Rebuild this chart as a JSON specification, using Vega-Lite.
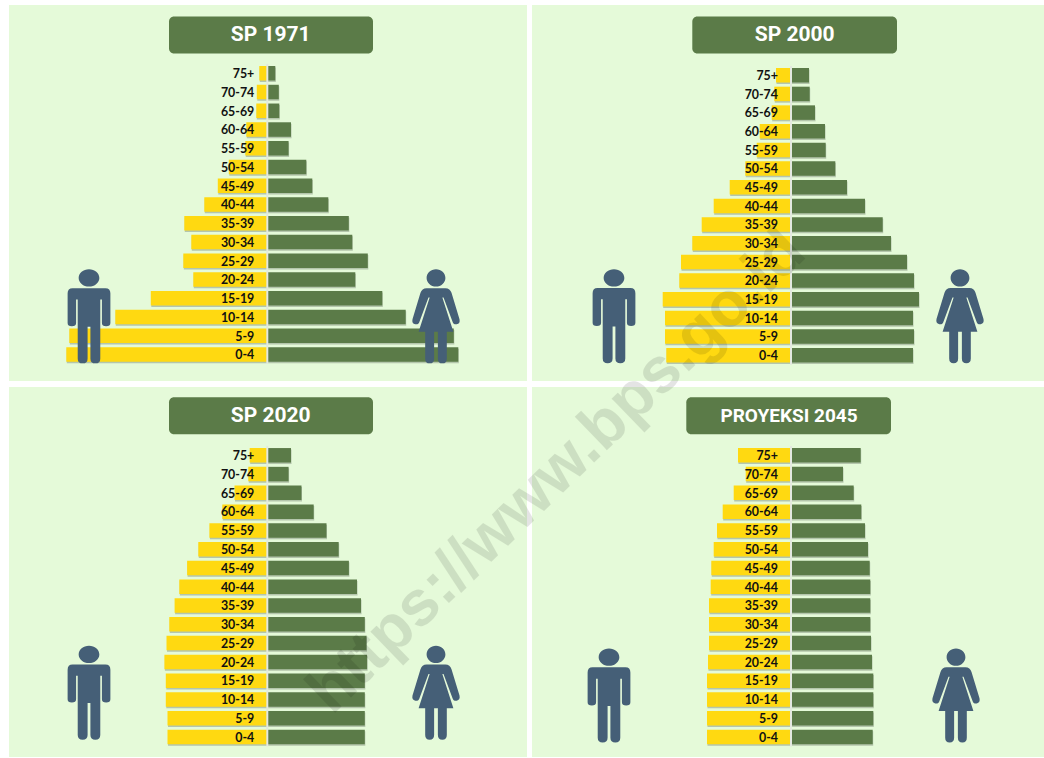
{"$schema":"https://vega.github.io/schema/vega-lite/v6.json","background":"#ffffff","padding":{"left":9,"top":5,"right":0,"bottom":0},"autosize":{"type":"pad"},"bounds":"flush","columns":2,"spacing":{"row":6,"column":5},
"config":{"range":{"symbol":["M-0.35,-0.6 H0.35 Q0.455,-0.6 0.455,-0.49 V0.14 Q0.455,0.21 0.365,0.21 Q0.275,0.21 0.275,0.14 V-0.36 H0.24 V0.9 Q0.24,1 0.135,1 Q0.03,1 0.03,0.9 V0.22 H-0.03 V0.9 Q-0.03,1 -0.135,1 Q-0.24,1 -0.24,0.9 V-0.36 H-0.275 V0.14 Q-0.275,0.21 -0.365,0.21 Q-0.455,0.21 -0.455,0.14 V-0.49 Q-0.455,-0.6 -0.35,-0.6 Z M-0.22,-0.816 A0.22,0.184 0 1 1 0.22,-0.816 A0.22,0.184 0 1 1 -0.22,-0.816 Z","M-0.2,-0.6 H0.2 Q0.3,-0.6 0.33,-0.5 L0.5,0.06 Q0.52,0.15 0.44,0.17 Q0.37,0.18 0.35,0.11 L0.16,-0.4 L0.135,-0.4 L0.37,0.33 H0.23 V0.9 Q0.23,1 0.135,1 Q0.04,1 0.04,0.9 V0.33 H-0.04 V0.9 Q-0.04,1 -0.135,1 Q-0.23,1 -0.23,0.9 V0.33 H-0.37 L-0.135,-0.4 L-0.16,-0.4 L-0.35,0.11 Q-0.37,0.18 -0.44,0.17 Q-0.52,0.15 -0.5,0.06 L-0.33,-0.5 Q-0.3,-0.6 -0.2,-0.6 Z M-0.2,-0.816 A0.2,0.184 0 1 1 0.2,-0.816 A0.2,0.184 0 1 1 -0.2,-0.816 Z"]}},
"datasets":{
"sp1971":[{"age":"75+","sex":"L","value":-8},{"age":"70-74","sex":"L","value":-10.5},{"age":"65-69","sex":"L","value":-11},{"age":"60-64","sex":"L","value":-21},{"age":"55-59","sex":"L","value":-22},{"age":"50-54","sex":"L","value":-38.5},{"age":"45-49","sex":"L","value":-49.5},{"age":"40-44","sex":"L","value":-63},{"age":"35-39","sex":"L","value":-83},{"age":"30-34","sex":"L","value":-76},{"age":"25-29","sex":"L","value":-84},{"age":"20-24","sex":"L","value":-74},{"age":"15-19","sex":"L","value":-116.5},{"age":"10-14","sex":"L","value":-152},{"age":"5-9","sex":"L","value":-198},{"age":"0-4","sex":"L","value":-201},
{"age":"75+","sex":"P","value":8},{"age":"70-74","sex":"P","value":11.5},{"age":"65-69","sex":"P","value":12},{"age":"60-64","sex":"P","value":23.7},{"age":"55-59","sex":"P","value":21.3},{"age":"50-54","sex":"P","value":39},{"age":"45-49","sex":"P","value":45},{"age":"40-44","sex":"P","value":61},{"age":"35-39","sex":"P","value":81.5},{"age":"30-34","sex":"P","value":85},{"age":"25-29","sex":"P","value":100.5},{"age":"20-24","sex":"P","value":88},{"age":"15-19","sex":"P","value":115},{"age":"10-14","sex":"P","value":138.4},{"age":"5-9","sex":"P","value":186.5},{"age":"0-4","sex":"P","value":191}],
"sp2000":[{"age":"75+","sex":"L","value":-15},{"age":"70-74","sex":"L","value":-16.7},{"age":"65-69","sex":"L","value":-19.3},{"age":"60-64","sex":"L","value":-31.3},{"age":"55-59","sex":"L","value":-34.3},{"age":"50-54","sex":"L","value":-45.7},{"age":"45-49","sex":"L","value":-61.3},{"age":"40-44","sex":"L","value":-77.3},{"age":"35-39","sex":"L","value":-89.3},{"age":"30-34","sex":"L","value":-98.7},{"age":"25-29","sex":"L","value":-110},{"age":"20-24","sex":"L","value":-111.7},{"age":"15-19","sex":"L","value":-128.3},{"age":"10-14","sex":"L","value":-126},{"age":"5-9","sex":"L","value":-126},{"age":"0-4","sex":"L","value":-124.7},
{"age":"75+","sex":"P","value":18},{"age":"70-74","sex":"P","value":18.7},{"age":"65-69","sex":"P","value":24},{"age":"60-64","sex":"P","value":34},{"age":"55-59","sex":"P","value":34.7},{"age":"50-54","sex":"P","value":44.3},{"age":"45-49","sex":"P","value":56},{"age":"40-44","sex":"P","value":74},{"age":"35-39","sex":"P","value":91.7},{"age":"30-34","sex":"P","value":100},{"age":"25-29","sex":"P","value":116},{"age":"20-24","sex":"P","value":123},{"age":"15-19","sex":"P","value":128},{"age":"10-14","sex":"P","value":122},{"age":"5-9","sex":"P","value":123},{"age":"0-4","sex":"P","value":122}],
"sp2020":[{"age":"75+","sex":"L","value":-17.6},{"age":"70-74","sex":"L","value":-19},{"age":"65-69","sex":"L","value":-32.8},{"age":"60-64","sex":"L","value":-45},{"age":"55-59","sex":"L","value":-57.9},{"age":"50-54","sex":"L","value":-69},{"age":"45-49","sex":"L","value":-80.2},{"age":"40-44","sex":"L","value":-88},{"age":"35-39","sex":"L","value":-92.7},{"age":"30-34","sex":"L","value":-98},{"age":"25-29","sex":"L","value":-100.8},{"age":"20-24","sex":"L","value":-102.9},{"age":"15-19","sex":"L","value":-101.5},{"age":"10-14","sex":"L","value":-101.5},{"age":"5-9","sex":"L","value":-99.8},{"age":"0-4","sex":"L","value":-99.8},
{"age":"75+","sex":"P","value":23.7},{"age":"70-74","sex":"P","value":21.3},{"age":"65-69","sex":"P","value":34.2},{"age":"60-64","sex":"P","value":46.4},{"age":"55-59","sex":"P","value":59.2},{"age":"50-54","sex":"P","value":71.4},{"age":"45-49","sex":"P","value":81.6},{"age":"40-44","sex":"P","value":89.7},{"age":"35-39","sex":"P","value":93.7},{"age":"30-34","sex":"P","value":97.5},{"age":"25-29","sex":"P","value":99.2},{"age":"20-24","sex":"P","value":99.8},{"age":"15-19","sex":"P","value":97.5},{"age":"10-14","sex":"P","value":97.5},{"age":"5-9","sex":"P","value":97.5},{"age":"0-4","sex":"P","value":97.5}],
"p2045":[{"age":"75+","sex":"L","value":-53},{"age":"70-74","sex":"L","value":-45.3},{"age":"65-69","sex":"L","value":-57.3},{"age":"60-64","sex":"L","value":-68.3},{"age":"55-59","sex":"L","value":-74},{"age":"50-54","sex":"L","value":-77.3},{"age":"45-49","sex":"L","value":-79.7},{"age":"40-44","sex":"L","value":-80.3},{"age":"35-39","sex":"L","value":-82},{"age":"30-34","sex":"L","value":-82},{"age":"25-29","sex":"L","value":-82},{"age":"20-24","sex":"L","value":-83},{"age":"15-19","sex":"L","value":-84},{"age":"10-14","sex":"L","value":-84},{"age":"5-9","sex":"L","value":-84},{"age":"0-4","sex":"L","value":-84},
{"age":"75+","sex":"P","value":69.7},{"age":"70-74","sex":"P","value":52},{"age":"65-69","sex":"P","value":62.7},{"age":"60-64","sex":"P","value":70.3},{"age":"55-59","sex":"P","value":74},{"age":"50-54","sex":"P","value":77},{"age":"45-49","sex":"P","value":78.7},{"age":"40-44","sex":"P","value":79.3},{"age":"35-39","sex":"P","value":79.3},{"age":"30-34","sex":"P","value":79.3},{"age":"25-29","sex":"P","value":80},{"age":"20-24","sex":"P","value":81},{"age":"15-19","sex":"P","value":82.3},{"age":"10-14","sex":"P","value":82.3},{"age":"5-9","sex":"P","value":82.3},{"age":"0-4","sex":"P","value":81.7}],
"head":[{"panel":"sp1971","title":"SP 1971","age":"title","value":-98.3,"end":105.7,"mid":3.4},{"panel":"sp2000","title":"SP 2000","age":"title","value":-98.7,"end":106,"mid":3.7},{"panel":"sp2020","title":"SP 2020","age":"title","value":-98.3,"end":105.7,"mid":3.4},{"panel":"p2045","title":"PROYEKSI 2045","age":"title","value":-104.7,"end":100,"mid":-2}],
"icons":[{"panel":"sp1971","sex":"L","age":"10-14","value":-178.3},{"panel":"sp1971","sex":"P","age":"10-14","value":168.7},{"panel":"sp2000","sex":"L","age":"10-14","value":-177},{"panel":"sp2000","sex":"P","age":"10-14","value":169},{"panel":"sp2020","sex":"L","age":"10-14","value":-178.3},{"panel":"sp2020","sex":"P","age":"10-14","value":168.7},{"panel":"p2045","sex":"L","age":"10-14","value":-182},{"panel":"p2045","sex":"P","age":"10-14","value":165}],
"mark":[{"text":"https://www.bps.go.id","age":"70-74","value":-234}]
},
"concat":[
{"width":518,"height":376,"view":{"fill":"#E5FAD9","stroke":null},
"encoding":{"x":{"field":"value","type":"quantitative","axis":null,"scale":{"domain":[-258.3,259.7]}},"y":{"field":"age","type":"ordinal","axis":null,"scale":{"domain":["title","gap","75+","70-74","65-69","60-64","55-59","50-54","45-49","40-44","35-39","30-34","25-29","20-24","15-19","10-14","5-9","0-4"],"range":[21.4,358.9]}}},
"layer":[
{"data":{"name":"sp1971"},"mark":{"type":"bar","size":14.5,"color":"#8d9a86","opacity":0.55,"xOffset":0.5,"yOffset":1.5}},
{"data":{"name":"sp1971"},"mark":{"type":"bar","size":14.5},"encoding":{"color":{"field":"sex","type":"nominal","legend":null,"scale":{"domain":["L","P"],"range":["#FFD911","#5B7B48"]}}}},
{"data":{"name":"sp1971"},"transform":[{"filter":"datum.sex=='L'"}],"mark":{"type":"tick","orient":"vertical","size":18.75,"thickness":2,"color":"#E3E8E0","opacity":1},"encoding":{"x":{"datum":0,"type":"quantitative"}}},
{"data":{"name":"head"},"transform":[{"filter":"datum.panel=='sp1971'"}],"mark":{"type":"bar","size":37,"color":"#5B7B48","cornerRadius":5,"yOffset":-0.8},"encoding":{"x2":{"field":"end"}}},
{"data":{"name":"head"},"transform":[{"filter":"datum.panel=='sp1971'"}],"mark":{"type":"text","font":"Roboto","fontWeight":"bold","fontSize":21,"color":"#ffffff","align":"center","baseline":"middle","yOffset":-0.8},"encoding":{"x":{"field":"mid","type":"quantitative"},"text":{"field":"title"}}},
{"data":{"name":"sp1971"},"transform":[{"filter":"datum.sex=='L'"}],"mark":{"type":"text","font":"Lato","fontWeight":"bold","fontSize":12.4,"color":"#111111","align":"right","baseline":"middle","yOffset":0.8},"encoding":{"x":{"datum":-13,"type":"quantitative"},"text":{"field":"age"}}},
{"data":{"name":"icons"},"transform":[{"filter":"datum.panel=='sp1971'"}],"mark":{"type":"point","filled":true,"opacity":1,"color":"#455F77","size":8836,"yOffset":-0.7},"encoding":{"shape":{"field":"sex","type":"nominal","legend":null,"scale":{"domain":["L","P"]}}}}
]},
{"width":512,"height":376,"view":{"fill":"#E5FAD9","stroke":null},
"encoding":{"x":{"field":"value","type":"quantitative","axis":null,"scale":{"domain":[-259,253]}},"y":{"field":"age","type":"ordinal","axis":null,"scale":{"domain":["title","gap","75+","70-74","65-69","60-64","55-59","50-54","45-49","40-44","35-39","30-34","25-29","20-24","15-19","10-14","5-9","0-4"],"range":[23.6,359.6]}}},
"layer":[
{"data":{"name":"sp2000"},"mark":{"type":"bar","size":14.5,"color":"#8d9a86","opacity":0.55,"xOffset":0.5,"yOffset":1.5}},
{"data":{"name":"sp2000"},"mark":{"type":"bar","size":14.5},"encoding":{"color":{"field":"sex","type":"nominal","legend":null,"scale":{"domain":["L","P"],"range":["#FFD911","#5B7B48"]}}}},
{"data":{"name":"sp2000"},"transform":[{"filter":"datum.sex=='L'"}],"mark":{"type":"tick","orient":"vertical","size":18.75,"thickness":2,"color":"#E3E8E0","opacity":1},"encoding":{"x":{"datum":0,"type":"quantitative"}}},
{"data":{"name":"head"},"transform":[{"filter":"datum.panel=='sp2000'"}],"mark":{"type":"bar","size":37,"color":"#5B7B48","cornerRadius":5,"yOffset":-3},"encoding":{"x2":{"field":"end"}}},
{"data":{"name":"head"},"transform":[{"filter":"datum.panel=='sp2000'"}],"mark":{"type":"text","font":"Roboto","fontWeight":"bold","fontSize":21,"color":"#ffffff","align":"center","baseline":"middle","yOffset":-3},"encoding":{"x":{"field":"mid","type":"quantitative"},"text":{"field":"title"}}},
{"data":{"name":"sp2000"},"transform":[{"filter":"datum.sex=='L'"}],"mark":{"type":"text","font":"Lato","fontWeight":"bold","fontSize":12.4,"color":"#111111","align":"right","baseline":"middle","yOffset":0.8},"encoding":{"x":{"datum":-13,"type":"quantitative"},"text":{"field":"age"}}},
{"data":{"name":"icons"},"transform":[{"filter":"datum.panel=='sp2000'"}],"mark":{"type":"point","filled":true,"opacity":1,"color":"#455F77","size":8836,"yOffset":-1.7},"encoding":{"shape":{"field":"sex","type":"nominal","legend":null,"scale":{"domain":["L","P"]}}}}
]},
{"width":518,"height":370,"view":{"fill":"#E5FAD9","stroke":null},
"encoding":{"x":{"field":"value","type":"quantitative","axis":null,"scale":{"domain":[-258.3,259.7]}},"y":{"field":"age","type":"ordinal","axis":null,"scale":{"domain":["title","gap","75+","70-74","65-69","60-64","55-59","50-54","45-49","40-44","35-39","30-34","25-29","20-24","15-19","10-14","5-9","0-4"],"range":[21.35,359.4]}}},
"layer":[
{"data":{"name":"sp2020"},"mark":{"type":"bar","size":14.5,"color":"#8d9a86","opacity":0.55,"xOffset":0.5,"yOffset":1.5}},
{"data":{"name":"sp2020"},"mark":{"type":"bar","size":14.5},"encoding":{"color":{"field":"sex","type":"nominal","legend":null,"scale":{"domain":["L","P"],"range":["#FFD911","#5B7B48"]}}}},
{"data":{"name":"sp2020"},"transform":[{"filter":"datum.sex=='L'"}],"mark":{"type":"tick","orient":"vertical","size":18.75,"thickness":2,"color":"#E3E8E0","opacity":1},"encoding":{"x":{"datum":0,"type":"quantitative"}}},
{"data":{"name":"head"},"transform":[{"filter":"datum.panel=='sp2020'"}],"mark":{"type":"bar","size":37,"color":"#5B7B48","cornerRadius":5,"yOffset":-2},"encoding":{"x2":{"field":"end"}}},
{"data":{"name":"head"},"transform":[{"filter":"datum.panel=='sp2020'"}],"mark":{"type":"text","font":"Roboto","fontWeight":"bold","fontSize":21,"color":"#ffffff","align":"center","baseline":"middle","yOffset":-2},"encoding":{"x":{"field":"mid","type":"quantitative"},"text":{"field":"title"}}},
{"data":{"name":"sp2020"},"transform":[{"filter":"datum.sex=='L'"}],"mark":{"type":"text","font":"Lato","fontWeight":"bold","fontSize":12.4,"color":"#111111","align":"right","baseline":"middle","yOffset":0.8},"encoding":{"x":{"datum":-13,"type":"quantitative"},"text":{"field":"age"}}},
{"data":{"name":"icons"},"transform":[{"filter":"datum.panel=='sp2020'"}],"mark":{"type":"point","filled":true,"opacity":1,"color":"#455F77","size":8836,"yOffset":-6.7},"encoding":{"shape":{"field":"sex","type":"nominal","legend":null,"scale":{"domain":["L","P"]}}}}
]},
{"width":512,"height":370,"view":{"fill":"#E5FAD9","stroke":null},
"encoding":{"x":{"field":"value","type":"quantitative","axis":null,"scale":{"domain":[-259,253]}},"y":{"field":"age","type":"ordinal","axis":null,"scale":{"domain":["title","gap","75+","70-74","65-69","60-64","55-59","50-54","45-49","40-44","35-39","30-34","25-29","20-24","15-19","10-14","5-9","0-4"],"range":[21.35,359.4]}}},
"layer":[
{"data":{"name":"p2045"},"mark":{"type":"bar","size":14.5,"color":"#8d9a86","opacity":0.55,"xOffset":0.5,"yOffset":1.5}},
{"data":{"name":"p2045"},"mark":{"type":"bar","size":14.5},"encoding":{"color":{"field":"sex","type":"nominal","legend":null,"scale":{"domain":["L","P"],"range":["#FFD911","#5B7B48"]}}}},
{"data":{"name":"p2045"},"transform":[{"filter":"datum.sex=='L'"}],"mark":{"type":"tick","orient":"vertical","size":18.75,"thickness":2,"color":"#E3E8E0","opacity":1},"encoding":{"x":{"datum":0,"type":"quantitative"}}},
{"data":{"name":"head"},"transform":[{"filter":"datum.panel=='p2045'"}],"mark":{"type":"bar","size":37,"color":"#5B7B48","cornerRadius":5,"yOffset":-2},"encoding":{"x2":{"field":"end"}}},
{"data":{"name":"head"},"transform":[{"filter":"datum.panel=='p2045'"}],"mark":{"type":"text","font":"Roboto","fontWeight":"bold","fontSize":19,"color":"#ffffff","align":"center","baseline":"middle","yOffset":-2},"encoding":{"x":{"field":"mid","type":"quantitative"},"text":{"field":"title"}}},
{"data":{"name":"p2045"},"transform":[{"filter":"datum.sex=='L'"}],"mark":{"type":"text","font":"Lato","fontWeight":"bold","fontSize":12.4,"color":"#111111","align":"right","baseline":"middle","yOffset":0.8},"encoding":{"x":{"datum":-13,"type":"quantitative"},"text":{"field":"age"}}},
{"data":{"name":"icons"},"transform":[{"filter":"datum.panel=='p2045'"}],"mark":{"type":"point","filled":true,"opacity":1,"color":"#455F77","size":8836,"yOffset":-3.9},"encoding":{"shape":{"field":"sex","type":"nominal","legend":null,"scale":{"domain":["L","P"]}}}},
{"data":{"name":"mark"},"mark":{"type":"text","font":"Liberation Sans","fontWeight":"bold","fontSize":64,"color":"#000000","opacity":0.1,"angle":316,"align":"center","baseline":"middle","yOffset":-2},"encoding":{"text":{"field":"text"}}}
]}
]}
